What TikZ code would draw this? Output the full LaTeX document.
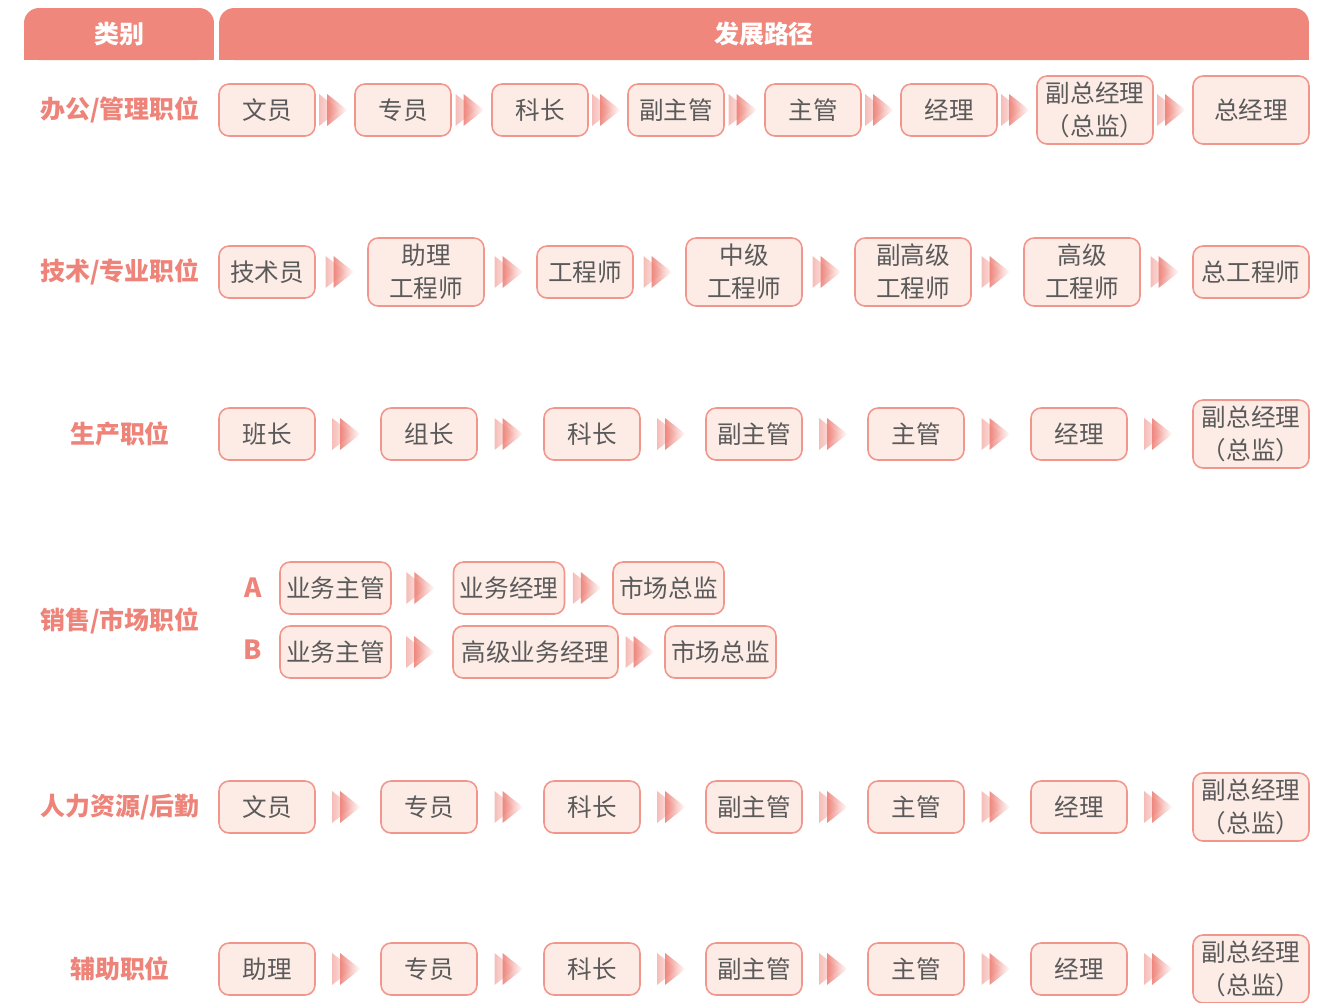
\documentclass[tikz,border=0pt]{standalone}
\usepackage{fontspec}
\setmainfont{Noto Sans CJK SC}
\usepackage{tikz}
\usetikzlibrary{calc,fadings}
\definecolor{cHead}{HTML}{EF877C}
\definecolor{cFill}{HTML}{FDECE6}
\definecolor{cLine}{HTML}{F0968C}
\definecolor{cText}{HTML}{5A5A5A}
\definecolor{cCat}{HTML}{EE8479}
\definecolor{cArr}{HTML}{EC7A70}
\newcommand{\boxfont}{\fontsize{14}{18.7}\selectfont}
\newcommand{\catfont}{\fontsize{14.2}{16}\selectfont\bfseries}
\tikzset{
  headtab/.style={fill=cHead, rounded corners=0.3cm, minimum height=1.04cm,
                  inner sep=0pt, text=white, font=\catfont},
  catlbl/.style={text=cCat, font=\catfont},
  box/.style={draw=cLine, fill=cFill, line width=0.9pt, rounded corners=0.2cm,
              minimum width=1.92cm, minimum height=1.04cm, inner sep=1pt,
              align=center, font=\boxfont, text=cText},
  widebox/.style={box, minimum width=2.32cm},
  tallbox/.style={widebox, minimum height=1.36cm},
  salebox/.style={box, minimum width=2.22cm},
  abtag/.style={text=cCat, font=\fontsize{15}{16}\selectfont\bfseries},
  chevfill/.style={fill=cArr, path fading=east}
}
% double chevron between two boxes
\newcommand{\chevarrow}[2]{%
  \coordinate (mid) at ($(#1.east)!0.5!(#2.west)$);
  \begin{scope}[shift={(mid)}]
    \fill[chevfill, fill opacity=0.5] (-16,-16) -- (4.5,0) -- (-16,16) -- cycle;
    \fill[chevfill, fill opacity=0.85] (-8,-16) -- (12.5,0) -- (-8,16) -- cycle;
  \end{scope}}
\begin{document}
\begin{tikzpicture}[x=0.02cm, y=-0.02cm]
\useasboundingbox (0,0) rectangle (1332,1002);
% ----- header -----
\node[headtab, minimum width=3.8cm] (hcat) at (119,34) {};
\fill[cHead] (hcat.west) rectangle (hcat.south east);
\node[headtab, minimum width=21.8cm] (hpath) at (764,34) {};
\fill[cHead] (hpath.west) rectangle (hpath.south east);
\node at (hcat) [text=white, font=\catfont] {类别};
\node at (hpath) [text=white, font=\catfont] {发展路径};
% ----- office / management -----
\node[catlbl] (cat1) at (120,110) {办公/管理职位};
\node[box] (a1) at (267,110) {文员};
\node[box] (a2) at (403,110) {专员};
\node[box] (a3) at (540,110) {科长};
\node[box] (a4) at (676,110) {副主管};
\node[box] (a5) at (813,110) {主管};
\node[box] (a6) at (949,110) {经理};
\node[tallbox] (a7) at (1095,110) {副总经理\\（总监）};
\node[tallbox] (a8) at (1251,110) {总经理};
\chevarrow{a1}{a2} \chevarrow{a2}{a3} \chevarrow{a3}{a4} \chevarrow{a4}{a5}
\chevarrow{a5}{a6} \chevarrow{a6}{a7} \chevarrow{a7}{a8}
% ----- technical -----
\node[catlbl] (cat2) at (120,272) {技术/专业职位};
\node[box] (b1) at (267,272) {技术员};
\node[tallbox] (b2) at (426,272) {助理\\工程师};
\node[box] (b3) at (585,272) {工程师};
\node[tallbox] (b4) at (744,272) {中级\\工程师};
\node[tallbox] (b5) at (913,272) {副高级\\工程师};
\node[tallbox] (b6) at (1082,272) {高级\\工程师};
\node[widebox] (b7) at (1251,272) {总工程师};
\chevarrow{b1}{b2} \chevarrow{b2}{b3} \chevarrow{b3}{b4} \chevarrow{b4}{b5}
\chevarrow{b5}{b6} \chevarrow{b6}{b7}
% ----- production -----
\node[catlbl] (cat3) at (120,434) {生产职位};
\node[box] (c1) at (267,434) {班长};
\node[box] (c2) at (429,434) {组长};
\node[box] (c3) at (592,434) {科长};
\node[box] (c4) at (754,434) {副主管};
\node[box] (c5) at (916,434) {主管};
\node[box] (c6) at (1079,434) {经理};
\node[tallbox] (c7) at (1251,434) {副总经理\\（总监）};
\chevarrow{c1}{c2} \chevarrow{c2}{c3} \chevarrow{c3}{c4} \chevarrow{c4}{c5}
\chevarrow{c5}{c6} \chevarrow{c6}{c7}
% ----- sales / market -----
\node[catlbl] (cat4) at (120,621) {销售/市场职位};
\node[abtag] (ta) at (253,588) {A};
\node[abtag] (tb) at (253,650) {B};
\node[salebox] (d1) at (335.5,588) {业务主管};
\node[salebox] (d2) at (509,588) {业务经理};
\node[salebox] (d3) at (668.5,588) {市场总监};
\chevarrow{d1}{d2} \chevarrow{d2}{d3}
\node[salebox] (e1) at (335.5,652) {业务主管};
\node[box, minimum width=3.3cm] (e2) at (535.5,652) {高级业务经理};
\node[salebox] (e3) at (720.5,652) {市场总监};
\chevarrow{e1}{e2} \chevarrow{e2}{e3}
% ----- HR / logistics -----
\node[catlbl] (cat5) at (120,807) {人力资源/后勤};
\node[box] (f1) at (267,807) {文员};
\node[box] (f2) at (429,807) {专员};
\node[box] (f3) at (592,807) {科长};
\node[box] (f4) at (754,807) {副主管};
\node[box] (f5) at (916,807) {主管};
\node[box] (f6) at (1079,807) {经理};
\node[tallbox] (f7) at (1251,807) {副总经理\\（总监）};
\chevarrow{f1}{f2} \chevarrow{f2}{f3} \chevarrow{f3}{f4} \chevarrow{f4}{f5}
\chevarrow{f5}{f6} \chevarrow{f6}{f7}
% ----- support -----
\node[catlbl] (cat6) at (120,969) {辅助职位};
\node[box] (g1) at (267,969) {助理};
\node[box] (g2) at (429,969) {专员};
\node[box] (g3) at (592,969) {科长};
\node[box] (g4) at (754,969) {副主管};
\node[box] (g5) at (916,969) {主管};
\node[box] (g6) at (1079,969) {经理};
\node[tallbox] (g7) at (1251,969) {副总经理\\（总监）};
\chevarrow{g1}{g2} \chevarrow{g2}{g3} \chevarrow{g3}{g4} \chevarrow{g4}{g5}
\chevarrow{g5}{g6} \chevarrow{g6}{g7}
\end{tikzpicture}
\end{document}
